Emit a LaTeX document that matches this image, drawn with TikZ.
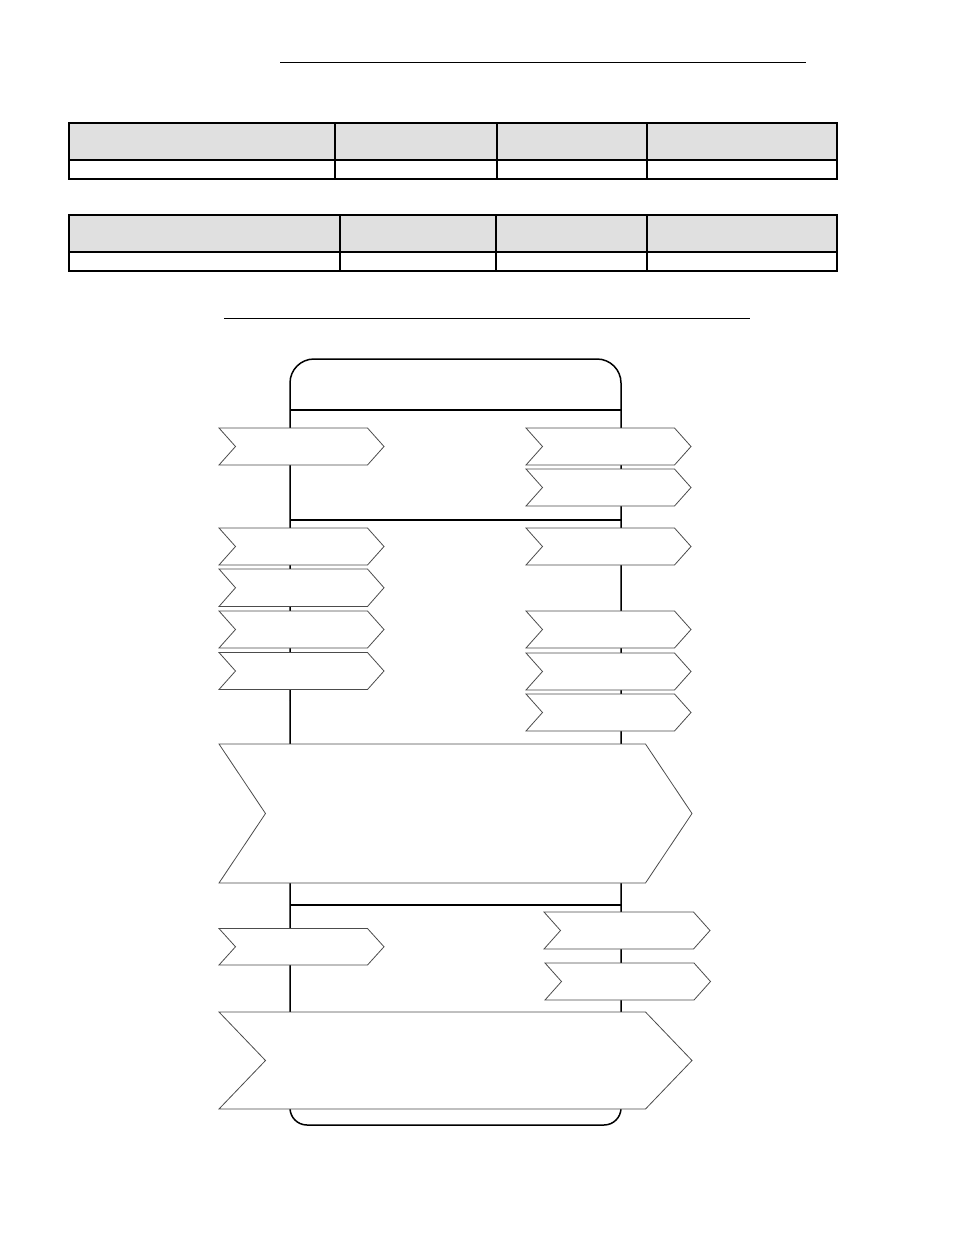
\documentclass[tikz,border=0pt]{standalone}
\tikzset{
  tableline/.style={line width=1.4pt},
  headcell/.style={fill=black!12},
  frameline/.style={line width=1.5pt},
  chevbox/.style={draw=black!70,fill=white,line width=0.8pt,line join=miter},
}
%% chevron: left x, top y, tip x, bottom y, notch depth
\newcommand{\chevron}[5]{%
  \draw[chevbox] (#1,#2) -- ({#3-#5},#2) -- (#3,{(#2+#4)/2}) -- ({#3-#5},#4) -- (#1,#4) -- ({#1+#5},{(#2+#4)/2}) -- cycle;}
\begin{document}
\begin{tikzpicture}[x=1pt,y=-1pt]
    \useasboundingbox (0,0) rectangle (954,1235);
    %% Title rules
    \draw[line width=1pt] (280,62) -- (806,62);
    \draw[line width=1pt] (224,318) -- (750,318);
    %% First table
    \fill[headcell] (69,123) rectangle (837,160);
    \draw[tableline] (69,123) rectangle (837,179);
    \draw[tableline] (69,160) -- (837,160);
    \foreach \cx in {335,497,647} \draw[tableline] (\cx,123) -- (\cx,179);
    %% Second table
    \fill[headcell] (69,215) rectangle (837,252);
    \draw[tableline] (69,215) rectangle (837,271);
    \draw[tableline] (69,252) -- (837,252);
    \foreach \cx in {340,496,647} \draw[tableline] (\cx,215) -- (\cx,271);
    %% Frame
    \draw[frameline,rounded corners=24pt] (290,700) -- (290,359) -- (621,359) -- (621,700);
    \draw[frameline,rounded corners=17pt] (290,700) -- (290,1125) -- (621,1125) -- (621,700);
    \draw[line width=1.2pt] (290,410) -- (621,410);
    \draw[line width=1.2pt] (290,520) -- (621,520);
    \draw[line width=1.2pt] (290,905) -- (621,905);
    %% Left chevrons
    \foreach \ya/\yb in {428/465,528/565,569/606.5,611/648,652.5/689.5,928.5/965}
        \chevron{219}{\ya}{384}{\yb}{16.5};
    %% Right chevrons
    \foreach \ya/\yb in {428/465,469/506,528/565,611/648,653/690,694/731}
        \chevron{526}{\ya}{691}{\yb}{16.5};
    \chevron{544}{912}{710}{949}{16.5}
    \chevron{545}{963}{710.5}{1000}{16.5}
    %% Wide chevrons
    \chevron{219}{744}{692}{883}{46.5}
    \chevron{219}{1012}{692}{1109}{46.5}
\end{tikzpicture}
\end{document}
